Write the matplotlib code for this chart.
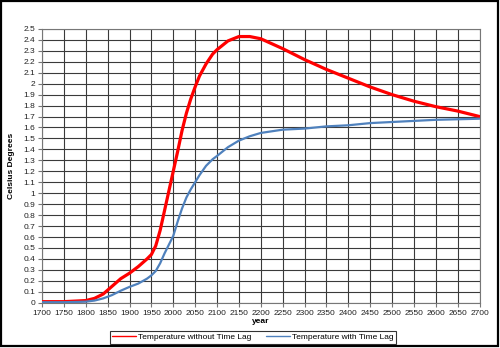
import matplotlib
matplotlib.use('Agg')
import matplotlib.pyplot as plt
from matplotlib.patches import Rectangle
from matplotlib.ticker import MultipleLocator, FuncFormatter

plt.rcParams['font.family'] = ['Liberation Sans', 'DejaVu Sans']

years = [1700, 1750, 1800, 1820, 1840, 1860, 1880, 1900, 1920, 1940, 1950,
         1960, 1970, 1980, 1990, 2000, 2010, 2020, 2030, 2040, 2050, 2060,
         2075, 2090, 2100, 2125, 2150, 2175, 2200, 2250, 2300, 2350, 2400, 2450,
         2500, 2550, 2600, 2650, 2700]
temp_no_lag = [0.01, 0.01, 0.02, 0.04, 0.08, 0.15, 0.22, 0.27, 0.33, 0.40, 0.44,
               0.52, 0.66, 0.84, 1.02, 1.20, 1.38, 1.57, 1.73, 1.86, 1.97, 2.07,
               2.18, 2.27, 2.31, 2.39, 2.43, 2.43, 2.41, 2.32, 2.22, 2.13, 2.05, 1.97,
               1.90, 1.84, 1.79, 1.75, 1.70]
temp_lag = [0.005, 0.005, 0.01, 0.02, 0.04, 0.07, 0.11, 0.145, 0.175, 0.22, 0.25,
            0.29, 0.36, 0.45, 0.53, 0.61, 0.74, 0.86, 0.96, 1.035, 1.10, 1.165,
            1.25, 1.31, 1.34, 1.42, 1.48, 1.52, 1.55, 1.58, 1.59, 1.61, 1.62, 1.64,
            1.65, 1.66, 1.67, 1.675, 1.68]

fig = plt.figure(figsize=(5.0, 3.48), dpi=100)
ax = fig.add_axes([0.084, 0.130, 0.875, 0.787])

ax.plot(years, temp_no_lag, color='#ff0000', lw=2.3, label='Temperature without Time Lag',
        solid_capstyle='round', solid_joinstyle='round', zorder=3)
ax.plot(years, temp_lag, color='#4f81bd', lw=1.6, label='Temperature with Time Lag',
        solid_capstyle='round', solid_joinstyle='round', zorder=3)

ax.set_xlim(1700, 2700)
ax.set_ylim(0, 2.5)
ax.xaxis.set_major_locator(MultipleLocator(50))
ax.yaxis.set_major_locator(MultipleLocator(0.1))
ax.yaxis.set_major_formatter(FuncFormatter(lambda v, p: f'{round(v, 1):g}'))
ax.grid(True, color='#3a3a3a', lw=0.8)
ax.set_axisbelow(True)
ax.tick_params(labelsize=6, length=3, color='#777777', pad=2, labelcolor='#222222')
for s in ax.spines.values():
    s.set_color('#777777')
    s.set_linewidth(0.8)

ax.set_ylabel('Celsius Degrees', fontsize=6, fontweight='bold', labelpad=6)
ax.set_xlabel('year', fontsize=6, fontweight='bold', labelpad=1)

leg = fig.legend(loc='center', bbox_to_anchor=(0.506, 0.031), ncol=2, fontsize=6,
                 frameon=True, fancybox=False, edgecolor='black', handlelength=2.8,
                 columnspacing=1.8, borderpad=0.3, handletextpad=0.3)
leg.get_frame().set_linewidth(0.8)
for h in leg.get_lines():
    h.set_linewidth(1.0)

fig.patches.append(Rectangle((0.002, 0.006), 0.994, 0.99, transform=fig.transFigure,
                             fill=False, edgecolor='black', lw=1.6))

fig.savefig('out.png', dpi=100)
